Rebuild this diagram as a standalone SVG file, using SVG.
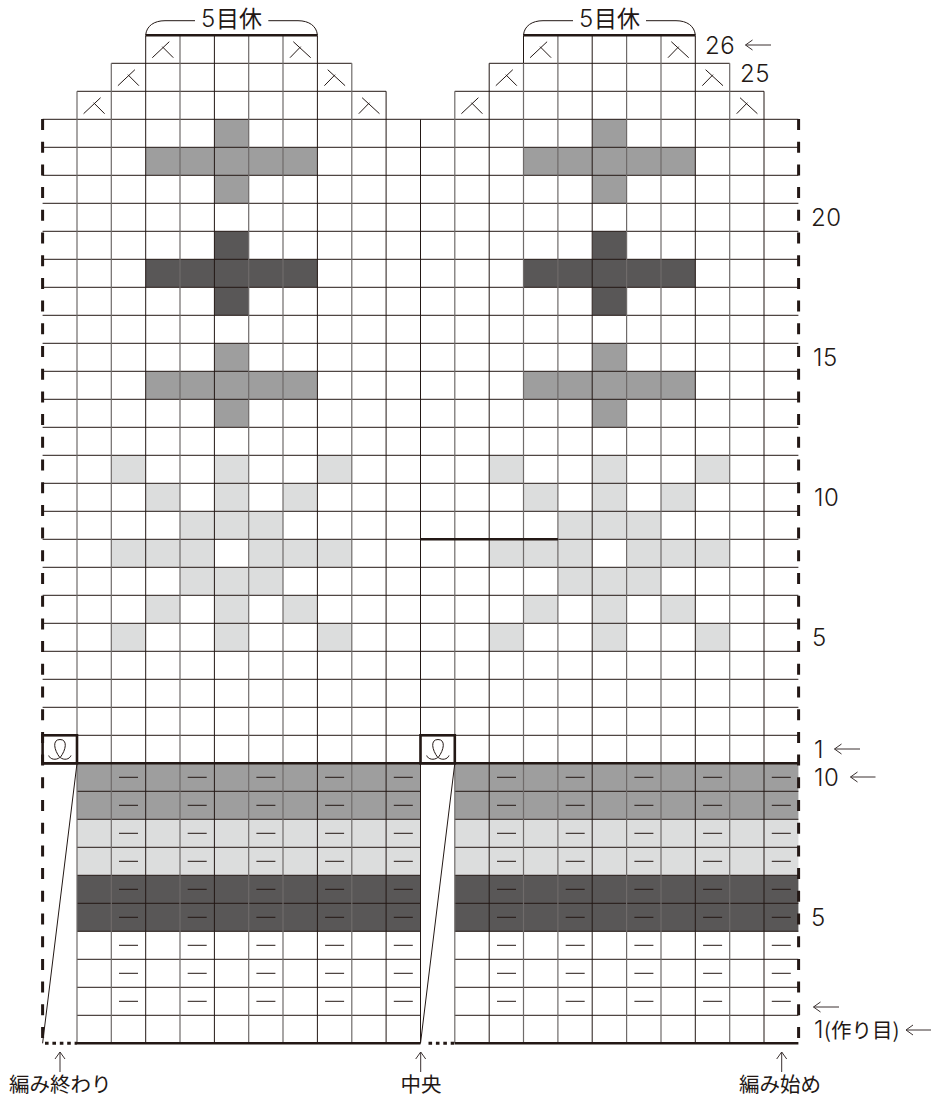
<svg xmlns="http://www.w3.org/2000/svg" width="933" height="1098" viewBox="0 0 933 1098">
<style>
.h{fill:none;stroke:#231815;stroke-width:1}
.d{fill:none;stroke:#231815;stroke-width:1}
.g{fill:none;stroke:#6f6b6a;stroke-width:1.2}
.t{fill:none;stroke:#231815;stroke-width:2.6}
.s{fill:none;stroke:#231815;stroke-width:1}
.dash{fill:none;stroke:#231815;stroke-width:3;stroke-dasharray:11 11.7}
.dot{fill:none;stroke:#231815;stroke-width:3;stroke-dasharray:3.6 3.8}
.ar{fill:none;stroke:#3a3130;stroke-width:1}
text{fill:#231815}
.n{font-family:"Inter","DejaVu Sans",sans-serif;font-size:24px;font-weight:300;letter-spacing:.6px}
.j{font-family:"Noto Sans CJK JP",sans-serif;font-size:20.5px;font-weight:400}
.b{font-size:23px}
</style>
<defs>
<path id="cross" d="M214.4 119.3H248.7V147.3H317.4V175.3H248.7V203.3H214.4V175.3H145.7V147.3H214.4Z"/>
<path id="flake" d="M111.3 455.3h34.4v28h-34.4zM214.4 455.3h34.3v84h-34.3zM317.4 455.3h34.4v28h-34.4zM145.7 483.3h34.3v28h-34.3zM283 483.3h34.4v28H283zM180 511.3h34.4v28H180zM248.7 511.3H283v28h-34.3zM111.3 539.3H214.4v28H111.3zM248.7 539.3H351.8v28H248.7zM180 567.3h103v28H180zM145.7 595.3h34.3v28h-34.3zM214.4 595.3h34.3v56h-34.3zM283 595.3h34.4v28H283zM111.3 623.3h34.4v28h-34.4zM317.4 623.3h34.4v28h-34.4z"/>
<path id="kl" class="s" d="M6.6 22.7L23.6 6.7M16.6 11.7L27.6 22.7"/>
<path id="kr" class="s" d="M10.3 6.7L27.7 22.7M7 22.7L17.7 11.7"/>
<g id="bars">
<path class="s" d="M119 777.3h19M119 805.3h19M119 833.3h19M119 861.3h19M119 889.3h19M119 917.3h19M119 945.3h19M119 973.3h19M119 1001.3h19"/>
</g>
<path id="loop" class="s" d="M48.7 755.5C50 759.5 56 760.5 59.8 757.5C54 750 52 739.5 60 739.5C68 739.5 66 750 60.2 757.5C64 760.5 69.5 759.5 71 755.5"/>
</defs>

<g id="fills">
<rect x="77" y="763.3" width="343.5" height="56" fill="#9e9e9e"/>
<rect x="454.8" y="763.3" width="343.6" height="56" fill="#9e9e9e"/>
<rect x="77" y="819.3" width="343.5" height="56" fill="#dcdddd"/>
<rect x="454.8" y="819.3" width="343.6" height="56" fill="#dcdddd"/>
<rect x="77" y="875.3" width="343.5" height="56" fill="#595757"/>
<rect x="454.8" y="875.3" width="343.6" height="56" fill="#595757"/>
<use href="#cross" fill="#9e9e9e"/>
<use href="#cross" fill="#595757" y="112"/>
<use href="#cross" fill="#9e9e9e" y="224"/>
<use href="#cross" fill="#9e9e9e" x="378"/>
<use href="#cross" fill="#595757" x="378" y="112"/>
<use href="#cross" fill="#9e9e9e" x="378" y="224"/>
<use href="#flake" fill="#dcdddd"/>
<use href="#flake" fill="#dcdddd" x="378"/>
</g>

<g id="grid">
<path class="h" d="M111.3 63.3H351.8M489.2 63.3H729.7M77 91.3H386.1M454.8 91.3H764M42.6 119.3H798.4M42.6 147.3H798.4M42.6 175.3H798.4M42.6 203.3H798.4M42.6 231.3H798.4M42.6 259.3H798.4M42.6 287.3H798.4M42.6 315.3H798.4M42.6 343.3H798.4M42.6 371.3H798.4M42.6 399.3H798.4M42.6 427.3H798.4M42.6 455.3H798.4M42.6 483.3H798.4M42.6 511.3H798.4M42.6 539.3H798.4M42.6 567.3H798.4M42.6 595.3H798.4M42.6 623.3H798.4M42.6 651.3H798.4M42.6 679.3H798.4M42.6 707.3H798.4M42.6 735.3H798.4"/>
<path class="h" d="M77 791.3H420.5M454.8 791.3H798.4M77 819.3H420.5M454.8 819.3H798.4M77 847.3H420.5M454.8 847.3H798.4M77 875.3H420.5M454.8 875.3H798.4M77 903.3H420.5M454.8 903.3H798.4M77 931.3H420.5M454.8 931.3H798.4M77 959.3H420.5M454.8 959.3H798.4M77 987.3H420.5M454.8 987.3H798.4M77 1015.3H420.5M454.8 1015.3H798.4"/>
<path class="d" d="M145.7 35.3V1043.3M214.4 35.3V1043.3M317.4 35.3V1043.3M386.1 91.3V1043.3M420.5 119.3V1043.3M489.2 63.3V1043.3M592.2 35.3V1043.3M695.3 35.3V1043.3M764 91.3V1043.3M523.5 35.3V63.3"/>
<path class="g" d="M77 91.3V1043.3M111.3 63.3V1043.3M180 35.3V1043.3M248.7 35.3V1043.3M283 35.3V1043.3M351.8 63.3V1043.3M454.8 91.3V1043.3M523.5 63.3V1043.3M557.9 35.3V1043.3M626.6 35.3V1043.3M661 35.3V1043.3M729.7 63.3V1043.3"/>
<path class="h" d="M77 763.3L42.6 1043.3M454.8 763.3L420.5 1043.3"/>
<path class="dash" d="M42.6 119V1043.3M798.6 119V1043.3"/>
<path class="t" d="M145.7 35.3H317.4M523.5 35.3H695.3M42.6 763.3H798.4M77 1043.3H420.5M454.8 1043.3H798.4M420.5 539.3H557.9"/>
<path class="dot" d="M45 1043.3H77M428.5 1043.3H456"/>
<rect class="t" x="42.6" y="735.3" width="34.4" height="28"/>
<rect class="t" x="420.5" y="735.3" width="34.3" height="28"/>
</g>

<g id="symbols">
<use href="#kl" x="145.7" y="35"/>
<use href="#kl" x="111.3" y="63"/>
<use href="#kl" x="77" y="91"/>
<use href="#kr" x="283" y="35"/>
<use href="#kr" x="317.4" y="63"/>
<use href="#kr" x="351.8" y="91"/>
<use href="#kl" x="523.5" y="35"/>
<use href="#kl" x="489.2" y="63"/>
<use href="#kl" x="454.8" y="91"/>
<use href="#kr" x="661" y="35"/>
<use href="#kr" x="695.3" y="63"/>
<use href="#kr" x="729.7" y="91"/>
<use href="#loop"/>
<use href="#loop" x="378"/>
<use href="#bars"/>
<use href="#bars" x="68.7"/>
<use href="#bars" x="137.4"/>
<use href="#bars" x="206.1"/>
<use href="#bars" x="274.8"/>
<use href="#bars" x="378"/>
<use href="#bars" x="446.7"/>
<use href="#bars" x="515.4"/>
<use href="#bars" x="584.1"/>
<use href="#bars" x="652.8"/>
<path class="s" d="M145.7 35C146.5 26 154 20.7 165 20.7H195M268.3 20.7H298C309 20.7 316.6 26 317.4 35M523.5 35C524.3 26 532 20.7 543 20.7H573M646 20.7H676C687 20.7 694.5 26 695.3 35"/>
</g>

<g id="arrows">
<path class="ar" d="M771 45H745.5M752.5 40L745.5 45L752.5 50M860 749H834.5M841.5 744L834.5 749L841.5 754M875.5 777H850.5M857.5 772L850.5 777L857.5 782M839 1007H813.5M820.5 1002L813.5 1007L820.5 1012M931 1030H906M913 1025L906 1030L913 1035M60 1072V1052M55 1059L60 1052L65 1059M420.7 1072V1052M415.7 1059L420.7 1052L425.7 1059M781.7 1072V1052M776.7 1059L781.7 1052L786.7 1059"/>
</g>

<g id="labels">
<text class="j b" x="231.5" y="27" text-anchor="middle"><tspan class="n">5</tspan>目休</text>
<text class="j b" x="609.5" y="27" text-anchor="middle"><tspan class="n">5</tspan>目休</text>
<text class="n" x="705" y="54">26</text>
<text class="n" x="740" y="82">25</text>
<text class="n" x="811" y="226">20</text>
<text class="n" x="813" y="366">15</text>
<text class="n" x="814" y="506">10</text>
<text class="n" x="812" y="646">5</text>
<text class="n" x="814" y="758">1</text>
<text class="n" x="814" y="786">10</text>
<text class="n" x="811" y="926">5</text>
<text class="j" x="814" y="1038"><tspan class="n">1</tspan>(作り目)</text>
<text class="j" x="9" y="1092">編み終わり</text>
<text class="j" x="421" y="1092" text-anchor="middle" font-weight="700">中央</text>
<text class="j" x="739" y="1092">編み始め</text>
</g>
</svg>
